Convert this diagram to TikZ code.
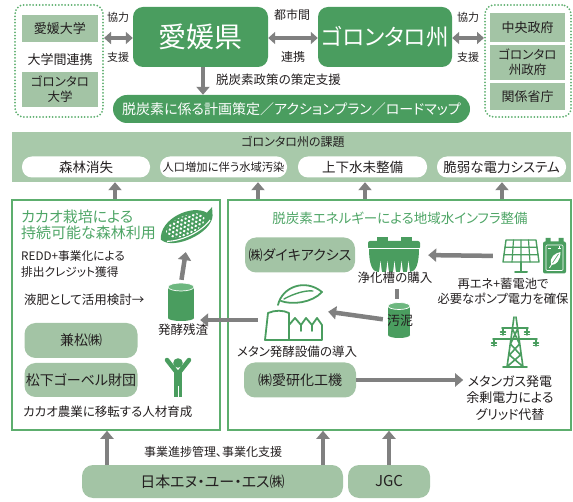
\documentclass[tikz,border=0pt]{standalone}
\usepackage{fontspec}
\setmainfont{Noto Sans CJK JP}[RawFeature=+palt]
\usetikzlibrary{arrows.meta,calc}
\definecolor{dgreen}{HTML}{4A9D5F}
\definecolor{lgreen}{HTML}{A3C4A5}
\definecolor{bandgreen}{HTML}{A8C9AA}
\definecolor{fgreen}{HTML}{5DAE6E}
\definecolor{tgreen}{HTML}{4EA566}
\definecolor{mgreen}{HTML}{6DB77F}
\definecolor{arrowgray}{HTML}{808080}
\definecolor{ink}{HTML}{231F20}
\newcommand\fsz[2]{\fontsize{#1}{#2}\selectfont}
\tikzset{
  dbox/.style={fill=dgreen, text=white, rounded corners=10pt, inner sep=0pt, align=center},
  lbox/.style={fill=lgreen, text=ink, inner sep=0pt, align=center, font=\fsz{13pt}{16pt}},
  rbox/.style={lbox, rounded corners=11pt, font=\fsz{14pt}{17pt}},
  pill/.style={fill=white, text=ink, rounded corners=10pt, minimum height=21pt, inner sep=0pt, font=\fsz{13.5pt}{16pt}},
  dotframe/.style={draw=fgreen, line width=2pt, dash pattern=on 0pt off 3.2pt, line cap=round, rounded corners=9pt, inner sep=0pt},
  frame/.style={draw=fgreen, line width=1.6pt, inner sep=0pt},
  garrow/.style={draw=arrowgray, line width=4.5pt, -{Triangle[length=8pt,width=13pt]}},
  dblarrow/.style={draw=arrowgray, line width=4pt, {Triangle[length=7pt,width=12pt]}-{Triangle[length=7pt,width=12pt]}},
  gline/.style={draw=arrowgray, line width=4.5pt},
  txt/.style={text=ink, inner sep=0pt, font=\fsz{12.5pt}{16pt}, align=center},
  small/.style={txt, font=\fsz{11pt}{13pt}},
  heading/.style={text=tgreen, inner sep=0pt, align=left},
  iconbox/.style={inner sep=0pt, minimum width=#1},
  iconline/.style={draw=dgreen, line width=1.8pt, line join=round, line cap=round},
}
\begin{document}
\begin{tikzpicture}[x=1pt, y=-1pt]
\useasboundingbox (0,0) rectangle (573,502);

% ---------- partners and the two governments ----------
\node[dotframe, minimum width=88pt, minimum height=112pt] (dotL) at (59,61) {};
\node[lbox, minimum width=76pt, minimum height=27pt] (ehimeU) at (60,28.5) {愛媛大学};
\node[txt, font=\fsz{13pt}{16pt}] (uniLink) at (60,60) {大学間連携};
\node[lbox, minimum width=76pt, minimum height=35pt, font=\fsz{12.5pt}{15pt}] (gorU) at (60,89.5) {ゴロンタロ\\大学};

\node[dbox, minimum width=135pt, minimum height=60pt, font=\fsz{28pt}{30pt}] (ehime) at (200.5,37) {愛媛県};
\node[dbox, minimum width=134pt, minimum height=60pt, font=\fsz{22.5pt}{26pt}] (gor) at (385,37) {ゴロンタロ州};

\node[dotframe, minimum width=86pt, minimum height=112pt] (dotR) at (528,61) {};
\node[lbox, minimum width=75pt, minimum height=29pt] (central) at (527.5,27.5) {中央政府};
\node[lbox, minimum width=75pt, minimum height=35pt, font=\fsz{12.5pt}{15pt}] (prov) at (527.5,62.5) {ゴロンタロ\\州政府};
\node[lbox, minimum width=75pt, minimum height=27pt] (minis) at (527.5,96.5) {関係省庁};

\draw[dblarrow] (dotL.east |- 0,38) -- (ehime.west |- 0,38);
\draw[dblarrow] (ehime.east |- 0,38) -- (gor.west |- 0,38);
\draw[dblarrow] (gor.east |- 0,38) -- (dotR.west |- 0,38);
\node[small] (coopL) at (118,17) {協力};
\node[small] (suppL) at (118,57) {支援};
\node[small, font=\fsz{12pt}{14pt}] (cityA) at (292,15) {都市間};
\node[small, font=\fsz{12pt}{14pt}] (cityB) at (293,57) {連携};
\node[small] (coopR) at (468,17) {協力};
\node[small] (suppR) at (468,57) {支援};

% ---------- plan bar ----------
\node[dbox, rounded corners=14pt, minimum width=357pt, minimum height=28pt, font=\fsz{14pt}{16pt}] (plan) at (291.5,109) {脱炭素に係る計画策定／アクションプラン／ロードマップ};
\draw[garrow] (ehime.south -| 203,0) -- (plan.north -| 203,0);
\node[txt, anchor=west, font=\fsz{12.5pt}{15pt}] (policy) at (216,80) {脱炭素政策の策定支援};

% ---------- challenges ----------
\node[fill=bandgreen, minimum width=559pt, minimum height=50pt, inner sep=0pt] (band) at (291.5,157) {};
\node[txt, font=\fsz{12pt}{14pt}] (bandT) at (293,142) {ゴロンタロ州の課題};
\node[pill, minimum width=128pt] (c1) at (86,167) {森林消失};
\node[pill, minimum width=127pt, font=\fsz{11.3pt}{13pt}] (c2) at (223.5,167) {人口増加に伴う水域汚染};
\node[pill, minimum width=129pt] (c3) at (362.5,167) {上下水未整備};
\node[pill, minimum width=129pt] (c4) at (501.5,167) {脆弱な電力システム};

% ---------- two project frames ----------
\node[frame, minimum width=208pt, minimum height=230pt] (leftF) at (116,315) {};
\node[frame, minimum width=343pt, minimum height=230pt] (rightF) at (399.5,315) {};

\draw[garrow] (leftF.north -| 115,0) -- (band.south -| 115,0);
\draw[garrow] (rightF.north -| 258,0) -- (band.south -| 258,0);
\draw[garrow] (rightF.north -| 365,0) -- (band.south -| 365,0);
\draw[garrow] (rightF.north -| 502,0) -- (band.south -| 502,0);

% ---------- left frame: cacao ----------
\node[heading, anchor=north west, font=\fsz{15pt}{16pt}] (cacaoT) at (21,210) {カカオ栽培による\\持続可能な森林利用};
\node[txt, anchor=north west, align=left, font=\fsz{11.7pt}{16.5pt}] (redd) at (21,250) {REDD+事業化による\\排出クレジット獲得};
\node[txt, anchor=west] (fert) at (24,300) {液肥として活用検討→};
\node[rbox, minimum width=113pt, minimum height=35pt] (kanematsu) at (81,340.5) {兼松㈱};
\node[rbox, minimum width=113pt, minimum height=34pt] (goebel) at (81,380) {松下ゴーベル財団};
\node[txt, anchor=west] (training) at (23,412) {カカオ農業に移転する人材育成};

% cacao pod
\node[iconbox=56pt, minimum height=34pt] (pod) at (187,227) {};
\begin{scope}[shift={(pod.center)}, rotate=24]
  \fill[dgreen] (-29,1) .. controls (-22,-19) and (14,-19) .. (24,-5) -- (31,-8) -- (28,0)
    .. controls (20,16) and (-22,16) .. cycle;
  \begin{scope}
    \clip (-1,-2) ellipse (21 and 9.5);
    \foreach \i in {-6,...,6}
      \foreach \j in {-3,...,3}
        \fill[white] ({\i*4.2+mod(\j+3,2)*2.1},{\j*3.6-1}) circle (1.4);
  \end{scope}
  \draw[white, line width=1.1pt] (-24,5) .. controls (-10,11) and (12,10) .. (24,3);
\end{scope}

% fermentation residue (drum)
\node[iconbox=26pt, minimum height=38pt] (ferm) at (181,302) {};
\begin{scope}[shift={(ferm.center)}]
  \fill[dgreen] (-13,-15) rectangle (13,16);
  \fill[dgreen] (0,16) ellipse (13 and 3);
  \fill[mgreen] (0,-15) ellipse (13 and 4);
  \draw[white, line width=0.7pt] (0,-15) ellipse (13 and 4);
\end{scope}
\node[txt] (fermT) at (183,330) {発酵残渣};
\draw[garrow, shorten <=3pt, shorten >=8pt] (ferm.north) -- (pod.south);

% people
\node[iconbox=26pt, minimum height=40pt] (person) at (178,378) {};
\begin{scope}[shift={(person.center)}]
  \fill[dgreen] (0,-15) circle (4.8);
  \draw[dgreen, line width=4.5pt, line cap=round, line join=round] (-11,-18) -- (0,-4) -- (11,-18);
  \fill[dgreen] (-4,-6) rectangle (4,19);
  \draw[white, line width=0.9pt] (0,8) -- (0,19.5);
\end{scope}

% ---------- right frame: water infrastructure ----------
\node[heading, font=\fsz{13.5pt}{16pt}] (infraT) at (400,218) {脱炭素エネルギーによる地域水インフラ整備};
\node[rbox, minimum width=110pt, minimum height=35pt] (daiki) at (300,255) {㈱ダイキアクシス};

% septic tank
\node[iconbox=52pt, minimum height=35pt] (tank) at (394,255) {};
\begin{scope}[shift={(tank.center)}]
  \fill[dgreen] (-17,-18) rectangle (-6,-14);
  \fill[dgreen] (7,-18) rectangle (18,-14);
  \fill[dgreen, rounded corners=2pt] (-26,-14) rectangle (26,-6);
  \fill[dgreen] (-25,-6) -- (25,-6) .. controls (25,8) and (22,17) .. (16,17) -- (-16,17)
     .. controls (-22,17) and (-25,8) .. cycle;
  \draw[white, line width=1pt] (-26,-6) -- (26,-6);
  \foreach \xx in {-15,-8,-1,6,13}
    \fill[white] (\xx,17.5) -- (\xx+1.5,6) -- (\xx+3,17.5) -- cycle;
\end{scope}
\node[txt] (tankT) at (395,278) {浄化槽の購入};

% solar panel
\node[iconbox=38pt, minimum height=34pt] (solar) at (521,256) {};
\begin{scope}[shift={(solar.center)}]
  \draw[iconline, line width=1.4pt] (-15,-16) -- (15,-16) -- (18,6) -- (-18,6) -- cycle;
  \draw[iconline, line width=1.2pt] (-7.5,-16) -- (-9,6) (0,-16) -- (0,6) (7.5,-16) -- (9,6)
     (-16,-8.7) -- (16,-8.7) (-17,-1.3) -- (17,-1.3);
  \draw[iconline, line width=2pt] (0,6) -- (0,15) (-6,16) -- (6,16);
\end{scope}

% battery
\node[iconbox=23pt, minimum height=36pt] (battery) at (554.5,256) {};
\begin{scope}[shift={(battery.center)}]
  \fill[dgreen] (-9,-18) rectangle (-4,-14) (4,-18) rectangle (9,-14);
  \fill[dgreen, rounded corners=2pt] (-11.5,-14.5) rectangle (11.5,17.5);
  \draw[white, line width=0.6pt, rounded corners=1pt] (-8.5,-11) rectangle (8.5,14.5);
  \draw[white, line width=0.8pt] (-6.5,-8) -- (-3.5,-8) (3,-8) -- (6,-8) (4.5,-9.5) -- (4.5,-6.5);
  \fill[white] (-3,9) .. controls (-6,1) and (1,-3) .. (6,-4) .. controls (6,4) and (2,9) .. cycle;
  \draw[white, line width=0.8pt] (-5,12) -- (-2,7);
  \draw[dgreen, line width=0.6pt] (-2,7) -- (4,-2);
\end{scope}
\node[txt, font=\fsz{12.3pt}{15pt}] (pumpT) at (503,291) {再エネ+蓄電池で\\必要なポンプ電力を確保};
\draw[garrow, shorten <=9pt, shorten >=8pt] (solar.west) -- (tank.east);

% sludge drum
\node[iconbox=22pt, minimum height=36pt] (sludge) at (399,320) {};
\begin{scope}[shift={(sludge.center)}]
  \fill[dgreen] (-11,-14) rectangle (11,15);
  \fill[dgreen] (0,15) ellipse (11 and 3);
  \fill[mgreen] (0,-14) ellipse (11 and 3.5);
  \draw[white, line width=0.7pt] (0,-14) ellipse (11 and 3.5);
\end{scope}
\node[txt, font=\fsz{13pt}{15pt}] (sludgeT) at (400,321) {汚泥};
\draw[gline] ($(sludge.north)+(-2,-13)$) -- ($(sludge.north)+(-2,-3)$);

% methane fermentation plant
\node[iconbox=60pt, minimum height=60pt] (plant) at (293,311) {};
\begin{scope}[shift={(plant.center)}]
  \draw[iconline] (-15,-6) .. controls (-11,-24) and (12,-33) .. (29,-19)
     .. controls (19,-8) and (-1,-6) .. (-12,-10);
  \draw[iconline, line width=1.4pt] (-9,-12) .. controls (0,-17) and (12,-21) .. (20,-20);
  \draw[iconline] (-28,29) -- (-25,2) .. controls (-18,-1) and (-10,-1) .. (-4,2) -- (-4,29) -- cycle;
  \draw[iconline] (-4,29) -- (29,29) -- (29,14) -- (24,7) -- (19,14) -- (19,20)
     (19,14) -- (13,7) -- (8,14) -- (8,20) (8,14) -- (2,7) -- (-4,14);
\end{scope}
\node[txt] (plantT) at (297,352) {メタン発酵設備の導入};
\draw[garrow, shorten <=5pt, shorten >=5pt] (sludge.west) -- (plant.east);
\draw[garrow, shorten <=5pt, shorten >=6pt] (plant.west |- 0,320) -- (ferm.east |- 0,320);

\node[rbox, minimum width=112pt, minimum height=35pt] (aiken) at (300,380) {㈱愛研化工機};

% transmission tower
\node[iconbox=50pt, minimum height=50pt] (tower) at (515,342) {};
\begin{scope}[shift={(tower.center)}]
  \draw[iconline, line width=1.6pt] (-1,-25) -- (-8,25) (1,-25) -- (8,25)
     (-2.5,-13) -- (4.5,2) -- (-5.5,13) -- (7.2,24) (2.5,-13) -- (-4.5,2) -- (5.5,13) -- (-7.2,24)
     (-13,-14) -- (13,-14) (-22,-3) -- (22,-3);
  \foreach \s in {-1,1} {
    \draw[iconline, line width=1.4pt] (\s*12,-14) -- (\s*12,-7) (\s*21,-3) -- (\s*21,4);
    \draw[iconline, line width=1.4pt] (\s*12-2.5,-10) -- (\s*12+2.5,-10) (\s*12-2.5,-7.5) -- (\s*12+2.5,-7.5)
       (\s*21-2.5,1) -- (\s*21+2.5,1) (\s*21-2.5,3.5) -- (\s*21+2.5,3.5);
  }
  \draw[iconline] (-12,25) -- (12,25);
\end{scope}
\node[txt, font=\fsz{13pt}{16.5pt}] (gridT) at (510,398) {メタンガス発電\\余剰電力による\\グリッド代替};
\draw[garrow, shorten >=3pt] (aiken.east) -- (gridT.west |- aiken.east);

% ---------- supporting companies ----------
\node[rbox, minimum width=261pt, minimum height=33pt, font=\fsz{15pt}{17pt}] (nus) at (212.5,481.5) {日本エヌ・ユー・エス㈱};
\node[rbox, minimum width=82pt, minimum height=33pt, font=\fsz{15pt}{17pt}] (jgc) at (389,481.5) {JGC};
\node[txt, font=\fsz{12pt}{14pt}] (mgmt) at (213,452) {事業進捗管理、事業化支援};
\draw[garrow] (nus.north -| 107,0) -- (leftF.south -| 107,0);
\draw[garrow] (nus.north -| 323,0) -- (rightF.south -| 323,0);
\draw[garrow] (jgc.north) -- (rightF.south -| jgc.north);
\end{tikzpicture}
\end{document}
